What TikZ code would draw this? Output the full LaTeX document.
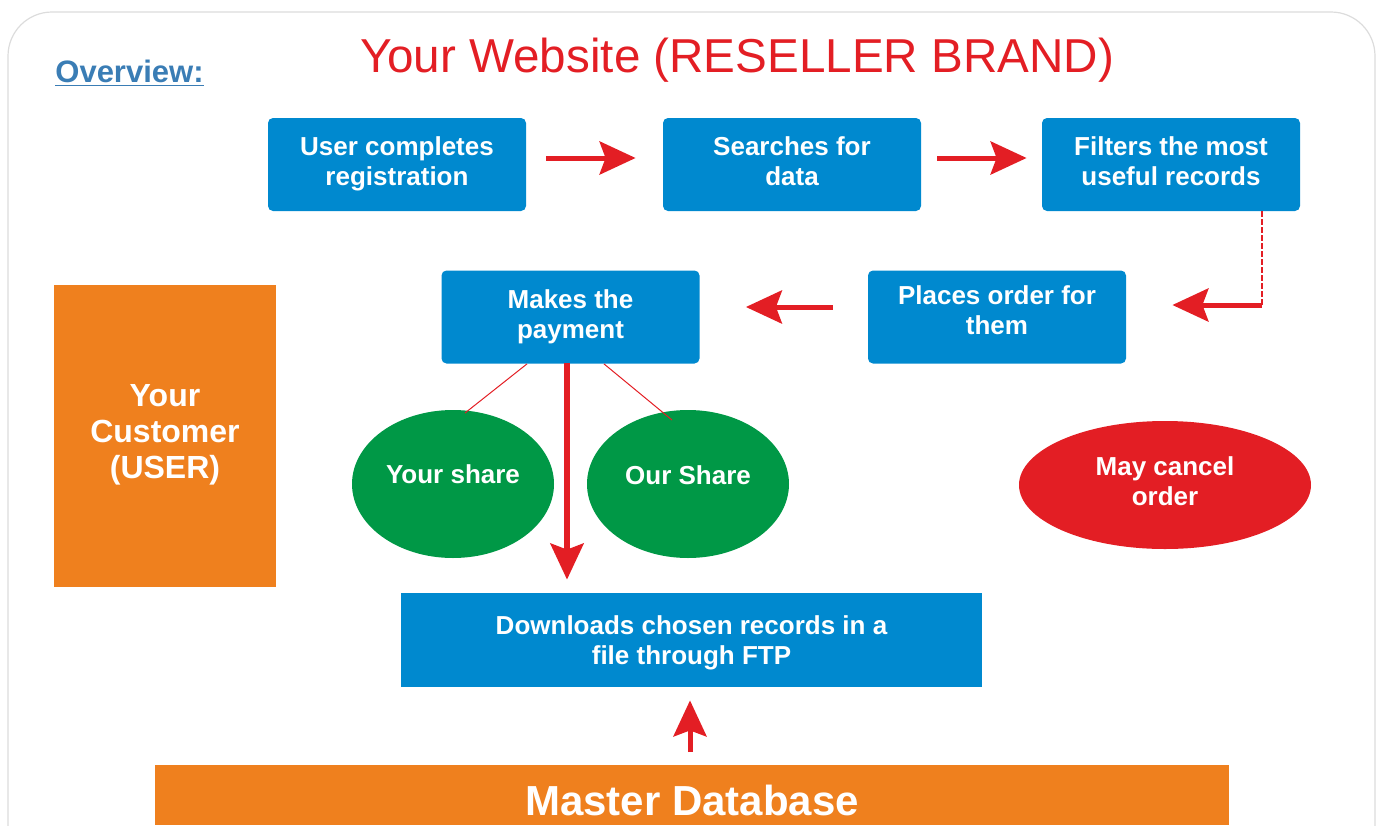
\documentclass[tikz,border=0pt]{standalone}
\usepackage{fontspec}
\setmainfont{Liberation Sans}
\usetikzlibrary{arrows.meta,shapes.geometric,calc}
\definecolor{cblue}{RGB}{0,137,207}
\definecolor{corange}{RGB}{239,128,30}
\definecolor{cgreen}{RGB}{0,152,70}
\definecolor{cred}{RGB}{227,30,36}
\definecolor{cover}{RGB}{58,125,181}
\definecolor{cframe}{RGB}{220,220,220}
\newcommand\liftlines[2]{\raisebox{#1}[\height][\depth]{\begin{tabular}{@{}c@{}}#2\end{tabular}}}
\newcommand\liftone[2]{\raisebox{#1}[\height][\depth]{#2}}
\tikzset{
  box/.style={fill=cblue, rounded corners=2.5pt, text=white,
    font=\bfseries\fontsize{13}{15}\selectfont, align=center,
    minimum width=129pt, minimum height=46.5pt, inner sep=0pt},
  flatbox/.style={fill=#1, text=white, align=center, inner sep=0pt},
  oval/.style={ellipse, fill=#1, text=white, align=center, inner sep=0pt,
    font=\bfseries\fontsize{13}{15}\selectfont},
  bigarrow/.style={draw=cred, line width=2.5pt,
    -{Stealth[length=18pt,width=16.5pt,inset=3pt]}},
  thinline/.style={draw=cred, line width=0.5pt},
  dashline/.style={draw=cred, line width=0.6pt, dash pattern=on 3pt off 1pt}
}
\begin{document}
\begin{tikzpicture}[x=0.5pt,y=-0.5pt]
\useasboundingbox (0,0) rectangle (1382,825);
% frame
\begin{scope}
\clip (0,0) rectangle (1382,825);
\draw[draw=cframe, line width=0.6pt, rounded corners=22pt] (8,12) rectangle (1375,900);
\end{scope}
% titles
\node[anchor=west, text=cover, font=\bfseries\fontsize{15.5}{18}\selectfont, inner sep=0pt] (ov) at (55,73) {\underline{Overview:}};
\node[text=cred, font=\fontsize{23.8}{28}\selectfont, inner sep=0pt] (title) at (737,60) {Your Website (RESELLER BRAND)};
% boxes
\node[box] (b1) at (397,164.5) {\liftlines{0pt}{User completes\\registration}};
\node[box] (b2) at (792,164.5) {\liftlines{0pt}{Searches for\\data}};
\node[box] (b3) at (1171,164.5) {\liftlines{0pt}{Filters the most\\useful records}};
\node[box] (b4) at (997,317) {\liftlines{1.75pt}{Places order for\\them}};
\node[box] (b5) at (570.5,317) {Makes the\\payment};
\node[flatbox=corange, minimum width=111pt, minimum height=151pt,
  font=\bfseries\fontsize{16}{18}\selectfont] (cust) at (165,436) {\liftlines{0.5pt}{Your\\Customer\\(USER)}};
\node[oval=cgreen, minimum width=101pt, minimum height=74pt] (ys) at (453,484) {\liftone{5pt}{Your share}};
\node[oval=cgreen, minimum width=101pt, minimum height=74pt] (os) at (688,484) {\liftone{4.5pt}{Our Share}};
\node[oval=cred, minimum width=146pt, minimum height=64pt] (mc) at (1165,485) {\liftlines{0.5pt}{May cancel\\order}};
\node[flatbox=cblue, minimum width=290.5pt, minimum height=47pt,
  font=\bfseries\fontsize{13}{15}\selectfont] (dl) at (691.5,640) {\liftlines{-1.5pt}{Downloads chosen records in a\\file through FTP}};
\node[flatbox=corange, minimum width=537pt, minimum height=30pt,
  font=\bfseries\fontsize{21}{24}\selectfont] (md) at (692,795) {\liftone{-2.5pt}{Master Database}};
% connectors
\draw[bigarrow, shorten <=10pt, shorten >=13.5pt] ([yshift=3.25pt]b1.east) -- ([yshift=3.25pt]b2.west);
\draw[bigarrow, shorten <=8pt, shorten >=7.5pt] ([yshift=3.25pt]b2.east) -- ([yshift=3.25pt]b3.west);
\coordinate (c1) at (1262,305);
\draw[dashline] (b3.south -| c1) -- (c1);
\draw[bigarrow] (c1) -- ($(c1 -| b4.east)+(46,0)$);
\draw[bigarrow, shorten <=17.5pt, shorten >=23pt] ([yshift=5pt]b4.west) -- ([yshift=5pt]b5.east);
\coordinate (c2) at (567,363);
\draw[bigarrow, line width=3pt, shorten >=6.5pt] (c2) -- (c2 |- dl.north);
\coordinate (c3) at (690,765);
\draw[bigarrow, shorten <=6.5pt, shorten >=6.5pt] (c3) -- (c3 |- dl.south);
\draw[thinline] ([xshift=-21.75pt]b5.south) -- ($(ys.center)+(12,-71)$);
\draw[thinline] ([xshift=16.75pt]b5.south) -- ($(os.center)+(-16,-64)$);
\end{tikzpicture}
\end{document}
